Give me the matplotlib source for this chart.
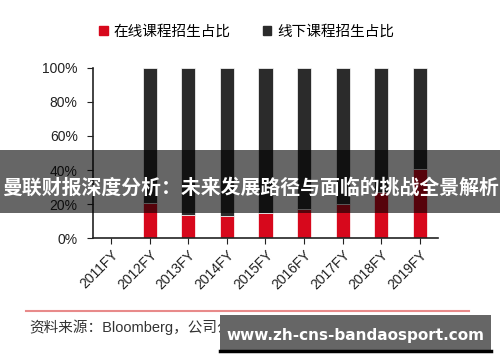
import numpy as np
import matplotlib
matplotlib.use('Agg')
import matplotlib.pyplot as plt
from matplotlib.patches import Rectangle, Patch
from matplotlib.lines import Line2D

plt.rcParams['font.family'] = ['Liberation Sans', 'Noto Sans CJK SC', 'DejaVu Sans']

years = ['2011FY', '2012FY', '2013FY', '2014FY', '2015FY', '2016FY', '2017FY', '2018FY', '2019FY']
online = [np.nan, 0.204, 0.133, 0.127, 0.149, 0.169, 0.202, 0.27, 0.404]
offline = [np.nan if np.isnan(v) else 1 - v for v in online]
legend_labels = ['在线课程招生占比', '线下课程招生占比']
banner_title = '曼联财报深度分析：未来发展路径与面临的挑战全景解析'
source_note = '资料来源：Bloomberg，公司公告，中信证券研究部'
watermark = 'www.zh-cns-bandaosport.com'

red = '#d7081c'
dark = '#2b2b2b'

fig = plt.figure(figsize=(5, 3.62), dpi=100)
ax = fig.add_axes([0.186, 0.3425, 0.69, 0.4697])

x = np.arange(len(years))
ax.bar(x, online, width=0.37, color=red, edgecolor='white', linewidth=0.5)
ax.bar(x, offline, width=0.37, bottom=online, color=dark, edgecolor='white', linewidth=0.5)

ax.set_xlim(-0.47, 8.47)
ax.set_ylim(0, 1)
ax.set_yticks([0, 0.2, 0.4, 0.6, 0.8, 1.0])
ax.set_yticklabels(['0%', '20%', '40%', '60%', '80%', '100%'])
ax.set_xticks(x)
ax.set_xticklabels(years, rotation=45, ha='right', rotation_mode='anchor')
ax.tick_params(axis='y', length=4, pad=7, labelsize=10, colors='#222222')
ax.tick_params(axis='x', length=4, pad=3, labelsize=10, colors='#222222')
for s in ['top', 'right']:
    ax.spines[s].set_visible(False)
for s in ['left', 'bottom']:
    ax.spines[s].set_linewidth(1.2)
    ax.spines[s].set_color('#222222')

handles = [Patch(color=red), Patch(color=dark)]
fig.legend(handles, legend_labels, loc='center', bbox_to_anchor=(0.493, 0.912),
           ncol=2, frameon=False, fontsize=10.5, handlelength=0.6, handleheight=0.6,
           handletextpad=0.4, columnspacing=2.2)

# red separator line and source note
fig.add_artist(Line2D([0.052, 0.938], [0.141, 0.141], color='#e88a8a', lw=1.5))
fig.text(0.058, 0.097, source_note, fontsize=10.5, color='#333333', va='center', ha='left')

# overlay banner across the middle
fig.add_artist(Rectangle((0, 0.4116), 1, 0.174, transform=fig.transFigure,
                         facecolor='black', alpha=0.6, edgecolor='none', zorder=5))
fig.text(0.5, 0.4834, banner_title, fontsize=14.3, fontweight='bold', color='white',
         ha='center', va='center', family=['Noto Sans CJK SC', 'DejaVu Sans'], zorder=6)

# watermark box at the bottom right
fig.add_artist(Rectangle((0.44, 0.0276), 0.542, 0.1024, transform=fig.transFigure,
                         facecolor='#666666', edgecolor='none', zorder=5))
fig.add_artist(Line2D([0.44, 0.982], [0.031, 0.031], color='black', lw=2.5, zorder=6))
fig.text(0.71, 0.072, watermark, fontsize=11, fontweight='bold', color='white',
         ha='center', va='center', family=['DejaVu Sans'], zorder=6)

fig.savefig('out.png', dpi=100)
